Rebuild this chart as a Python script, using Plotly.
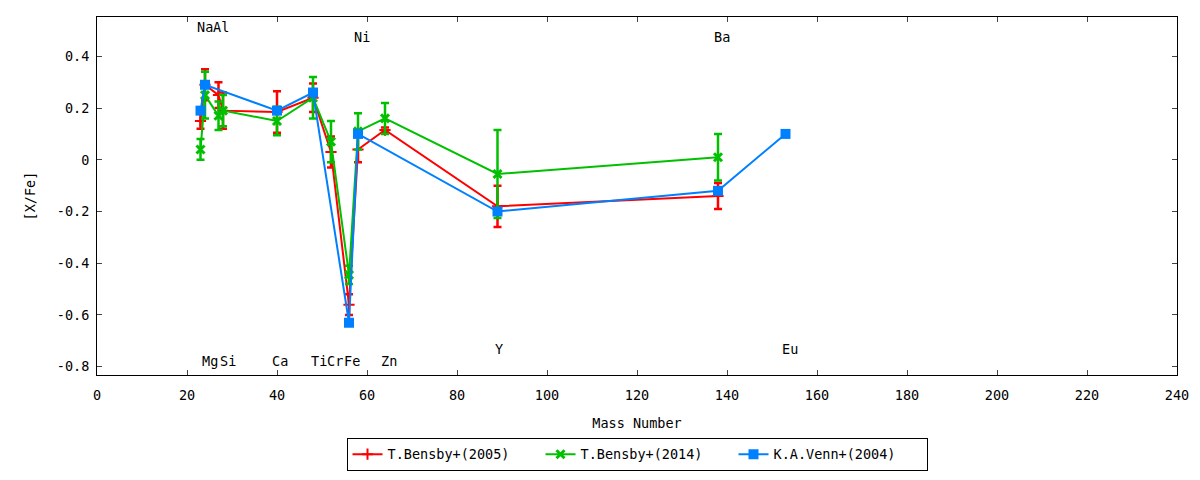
import plotly.graph_objects as go

# [X/Fe] abundance ratios against mass number
b05_mass = [23, 24, 27, 28, 40, 48, 52, 56, 58, 64, 89, 138]
b05_val = [0.15, 0.29, 0.25, 0.19, 0.185, 0.24, 0.03, -0.56, 0.04, 0.115, -0.18, -0.14]
b05_err = [0.03, 0.06, 0.05, 0.07, 0.08, 0.055, 0.06, 0.04, 0.05, 0.01, 0.08, 0.05]

b14_mass = [23, 24, 27, 28, 40, 48, 52, 56, 58, 64, 89, 138]
b14_val = [0.04, 0.25, 0.17, 0.19, 0.15, 0.24, 0.07, -0.445, 0.11, 0.16, -0.055, 0.01]
b14_err = [0.04, 0.09, 0.055, 0.06, 0.055, 0.08, 0.08, 0.035, 0.07, 0.06, 0.17, 0.09]

v04_mass = [23, 24, 40, 48, 56, 58, 89, 138, 153]
v04_val = [0.19, 0.29, 0.19, 0.26, -0.63, 0.10, -0.20, -0.12, 0.10]

# element name labels
elem_names = ["Na", "Al", "Ni", "Ba", "Mg", "Si", "Ca", "Ti", "Cr", "Fe", "Zn", "Y", "Eu"]
elem_x = [23.9, 27.5, 58.9, 138.9, 25.2, 29.0, 40.7, 49.4, 52.9, 56.6, 64.9, 89.3, 154.0]
elem_y = [0.513, 0.513, 0.474, 0.474, -0.778, -0.778, -0.778, -0.778, -0.778, -0.778,
          -0.778, -0.731, -0.731]

x_ticks = list(range(0, 241, 20))
y_ticks = [-0.8, -0.6, -0.4, -0.2, 0, 0.2, 0.4]
y_tick_text = ["-0.8", "-0.6", "-0.4", "-0.2", "0", "0.2", "0.4"]

FONT = "DejaVu Sans Mono"
FS = 13.5
RED = "#ff0000"
GREEN = "#00c000"
BLUE = "#0080ff"

fig = go.Figure()
fig.add_trace(go.Scatter(
    x=b05_mass, y=b05_val, name="T.Bensby+(2005)", mode="lines+markers",
    line=dict(color=RED, width=2),
    marker=dict(symbol="cross-thin", size=8, line=dict(color=RED, width=2)),
    error_y=dict(type="data", array=b05_err, color=RED, thickness=2.5, width=4),
))
fig.add_trace(go.Scatter(
    x=b14_mass, y=b14_val, name="T.Bensby+(2014)", mode="lines+markers",
    line=dict(color=GREEN, width=2),
    marker=dict(symbol="x-thin", size=8, line=dict(color=GREEN, width=3)),
    error_y=dict(type="data", array=b14_err, color=GREEN, thickness=2.5, width=4),
))
fig.add_trace(go.Scatter(
    x=v04_mass, y=v04_val, name="K.A.Venn+(2004)", mode="lines+markers",
    line=dict(color=BLUE, width=2),
    marker=dict(symbol="square", size=10, color=BLUE),
))

for name, lx, ly in zip(elem_names, elem_x, elem_y):
    fig.add_annotation(x=lx, y=ly, text=name, showarrow=False,
                       font=dict(family=FONT, size=FS, color="black"))

fig.update_xaxes(
    range=[0, 240], tickvals=x_ticks, ticks="inside", ticklen=5, mirror="ticks",
    showline=True, linecolor="black", linewidth=1, showgrid=False, zeroline=False,
    title=dict(text="Mass Number", standoff=16, font=dict(size=FS)),
    ticklabelstandoff=8, tickfont=dict(size=FS),
)
fig.update_yaxes(
    range=[-0.832, 0.552], tickvals=y_ticks, ticktext=y_tick_text, ticks="inside",
    ticklen=5, mirror="ticks", showline=True, linecolor="black", linewidth=1,
    showgrid=False, zeroline=False,
    title=dict(text="[X/Fe]", standoff=18, font=dict(size=FS)),
    ticklabelstandoff=4, tickfont=dict(size=FS),
)
# the page body adds 8px around the figure, so the figure is sized to fit the window
fig.update_layout(
    width=1184, height=464,
    margin=dict(l=89, r=15, t=9, b=97, autoexpand=False),
    paper_bgcolor="white", plot_bgcolor="white",
    font=dict(family=FONT, size=FS, color="black"),
    legend=dict(orientation="h", x=0.5, xanchor="center", y=-0.268, yanchor="bottom",
                bordercolor="black", borderwidth=1, font=dict(size=FS),
                entrywidth=148, tracegroupgap=0),
)

fig.write_html("out.html")
